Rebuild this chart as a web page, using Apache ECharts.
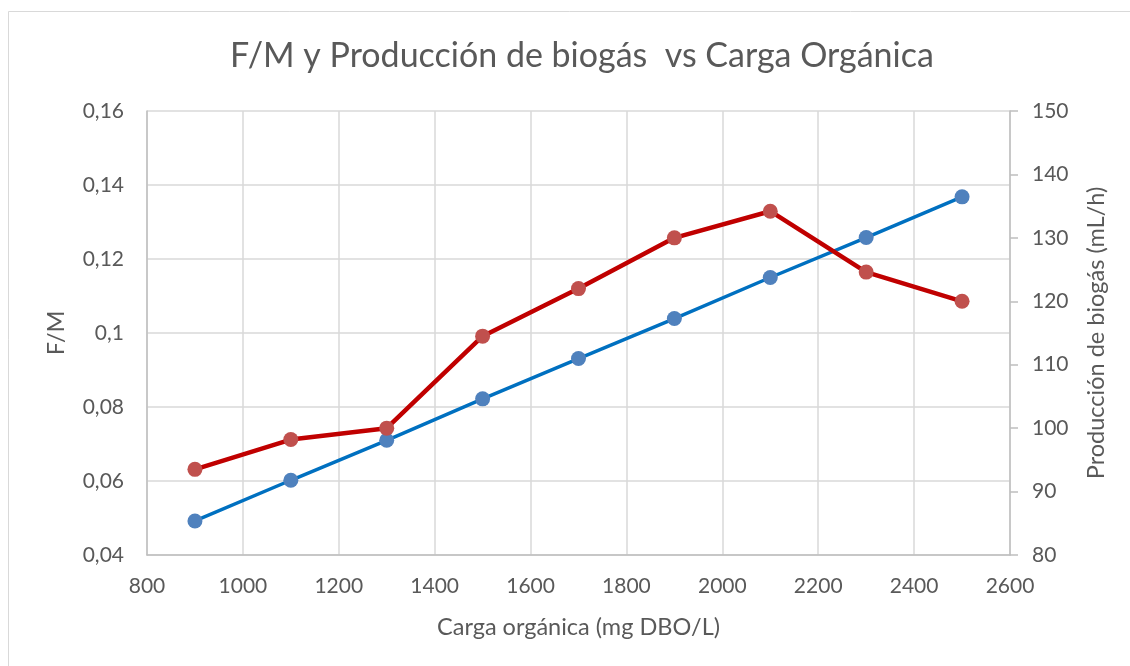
<!DOCTYPE html>
<html>
<head>
<meta charset="utf-8">
<script src="https://cdn.jsdelivr.net/npm/echarts@6/dist/echarts.min.js"></script>
<style>
  html, body { margin: 0; padding: 0; background: #fff; }
  #main { width: 1130px; height: 666px; }
</style>
</head>
<body>
<div id="main"></div>
<script>
// datos
var carga = [900, 1100, 1300, 1500, 1700, 1900, 2100, 2300, 2500];
var fm = [0.0492, 0.0602, 0.0710, 0.0822, 0.0931, 0.1039, 0.1150, 0.1258, 0.1368];
var biogas = [93.5, 98.2, 100.0, 114.5, 122.0, 130.0, 134.2, 124.6, 120.0];

function pares(xs, ys) {
  return xs.map(function (x, i) { return [x, ys[i]]; });
}

var fuente = 'Lato';
var gris = '#595959';

var myChart = echarts.init(document.getElementById('main'));
var option = {
  backgroundColor: '#fff',
  animation: false,
  textStyle: { fontFamily: fuente },
  graphic: [{
    type: 'rect',
    shape: { x: 8.5, y: 11.5, width: 1140, height: 680 },
    style: { fill: 'none', stroke: '#d9d9d9', lineWidth: 1 },
    silent: true
  }],
  title: {
    text: 'F/M y Producción de biogás  vs Carga Orgánica',
    left: 225,
    top: 34,
    textStyle: { fontFamily: fuente, fontSize: 34, fontWeight: 'normal', color: gris }
  },
  grid: { left: 147, right: 120, top: 111, bottom: 111 },
  xAxis: {
    type: 'value',
    min: 800, max: 2600, interval: 200,
    name: 'Carga orgánica (mg DBO/L)',
    nameLocation: 'middle',
    nameGap: 60,
    nameTextStyle: { fontSize: 23.5, color: gris },
    axisLine: { show: true, lineStyle: { color: '#bfbfbf', width: 1.5 } },
    axisTick: { show: false },
    axisLabel: { fontSize: 21, color: gris, margin: 21, formatter: function (v) { return String(v); } },
    splitLine: { show: true, lineStyle: { color: '#d9d9d9', width: 1.5 } }
  },
  yAxis: [{
    type: 'value',
    min: 0.04, max: 0.16, interval: 0.02,
    name: 'F/M',
    nameLocation: 'middle',
    nameGap: 79,
    nameTextStyle: { fontSize: 23.5, color: gris },
    axisLine: { show: true, lineStyle: { color: '#bfbfbf', width: 1.5 } },
    axisTick: { show: false },
    axisLabel: {
      fontSize: 21, color: gris, margin: 23,
      formatter: function (v) { return String(Math.round(v * 100) / 100).replace('.', ','); }
    },
    splitLine: { show: true, lineStyle: { color: '#d9d9d9', width: 1.5 } }
  }, {
    type: 'value',
    min: 80, max: 150, interval: 10,
    name: 'Producción de biogás (mL/h)',
    nameLocation: 'middle',
    nameGap: 74,
    nameTextStyle: { fontSize: 23.5, color: gris },
    axisLine: { show: true, lineStyle: { color: '#bfbfbf', width: 1.5 } },
    axisTick: { show: true, inside: false, length: 8, lineStyle: { color: '#bfbfbf', width: 1.5 } },
    axisLabel: { fontSize: 21, color: gris, margin: 22 },
    splitLine: { show: false }
  }],
  series: [{
    name: 'F/M',
    type: 'line',
    yAxisIndex: 0,
    data: pares(carga, fm),
    symbol: 'circle',
    symbolSize: 15,
    lineStyle: { color: '#0070C0', width: 3.5 },
    itemStyle: { color: '#4F81BD' },
    z: 2
  }, {
    name: 'Producción de biogás',
    type: 'line',
    yAxisIndex: 1,
    data: pares(carga, biogas),
    symbol: 'circle',
    symbolSize: 15,
    lineStyle: { color: '#C00000', width: 4.5 },
    itemStyle: { color: '#C0504D' },
    z: 3
  }]
};
myChart.setOption(option);
</script>
</body>
</html>
